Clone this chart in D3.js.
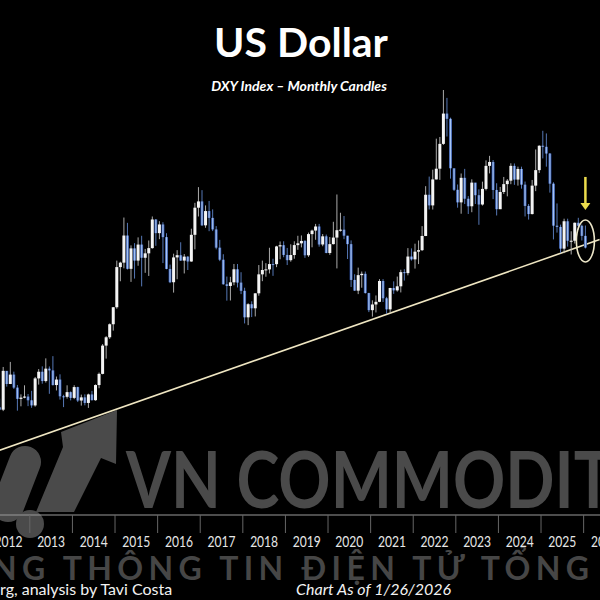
<!DOCTYPE html>
<html lang="en">
<meta charset="UTF-8">
<style>
    body{
        margin:0;
        background:#000;
    }
    text.title{
        font-family:Lato,"Open Sans",sans-serif;
        font-weight:bold;
        fill:#fff;
    }
    text.years{
        font-family:Lato,"Open Sans",sans-serif;
        font-size:15px;
        fill:#e6e6e6;
    }
    text.foot{
        font-family:Lato,"Open Sans",sans-serif;
        font-size:16px;
        fill:#f2f2f2;
    }
</style>
<body>
<div id="chart"></div>
<script src="https://cdn.jsdelivr.net/npm/d3@7"></script>
<script>
    var width = 600;
    var height = 600;

    // DXY monthly candles, Jan 2012 .. Jan 2026 (open = previous close)
    var firstOpen = 80.18;
    var closes = [
        79.08,78.86,78.98,78.71,83.09,81.61,82.67,81.20,79.93,80.07,80.19,79.77,
        79.19,82.24,82.99,81.94,83.34,83.14,81.49,82.11,80.22,80.16,80.69,80.04,
        81.26,79.74,80.10,79.47,80.43,79.78,81.49,82.75,85.94,86.88,88.35,90.27,
        94.80,95.30,98.36,94.60,96.91,95.53,97.34,95.85,96.35,96.94,100.17,98.63,
        99.61,98.18,94.59,93.09,95.89,96.14,95.53,95.98,95.43,98.44,101.50,102.21,
        99.51,101.12,100.35,99.05,96.99,95.63,92.86,92.67,93.08,94.55,93.05,92.12,
        89.13,90.61,90.15,91.84,93.98,94.47,94.54,95.14,95.13,97.13,97.27,96.17,
        95.58,96.16,97.28,97.48,97.75,96.13,98.52,98.92,99.38,97.35,98.27,96.39,
        97.39,98.13,98.96,99.02,98.34,97.39,93.35,92.14,93.89,94.04,91.87,89.94,
        90.58,90.88,93.23,91.28,90.03,92.44,92.17,92.63,94.23,94.12,95.99,95.67,
        96.54,96.71,98.31,102.96,101.76,104.69,105.90,108.70,112.12,111.53,105.95,103.52,
        102.10,104.87,102.51,101.66,104.33,102.91,101.86,103.62,106.22,106.66,103.50,101.33,
        103.27,104.16,104.55,106.22,104.67,105.87,104.10,101.70,100.78,103.99,105.74,108.49,
        108.37,107.61,104.21,99.47,99.33,96.88,99.97,97.77,97.77,99.80,99.46,98.32,
        97.00
    ];
    var highs = [
        81.78,79.74,80.74,79.95,83.53,83.05,84.10,83.00,81.50,80.44,81.46,80.48,
        80.84,82.40,83.29,83.60,84.50,83.59,84.75,82.45,82.70,80.39,81.46,80.77,
        81.47,81.30,80.41,80.44,80.52,80.83,81.56,82.90,86.11,87.01,88.44,90.28,
        95.53,95.40,100.39,99.79,97.25,97.50,98.15,98.33,96.85,97.80,100.51,100.22,
        99.98,99.86,98.62,95.08,96.31,96.71,97.60,96.27,96.03,99.13,102.05,103.82,
        103.48,101.76,102.26,101.31,99.42,97.87,96.25,93.73,93.70,95.15,95.15,94.22,
        92.47,90.72,90.94,91.84,95.03,95.53,95.24,96.98,95.74,97.20,97.69,97.71,
        96.96,97.37,97.71,98.33,98.37,97.84,98.69,99.02,99.67,99.67,98.53,98.47,
        98.19,99.91,102.99,100.93,100.56,98.32,97.81,93.99,94.74,94.30,94.30,91.90,
        91.05,91.60,93.44,93.44,91.44,92.46,93.19,93.73,94.50,94.56,96.94,96.91,
        97.44,97.80,99.42,103.93,105.01,105.79,109.29,109.48,114.78,113.89,111.66,105.65,
        104.12,105.36,105.88,102.81,104.70,104.08,103.57,104.44,106.84,107.35,106.88,104.26,
        103.84,104.97,104.73,106.51,106.49,106.13,106.13,104.45,101.92,104.63,108.07,108.54,
        110.18,109.88,107.67,104.37,101.98,99.59,100.26,100.26,98.84,99.83,100.36,99.60,
        99.49
    ];
    var lows = [
        78.93,78.10,78.48,78.65,78.55,81.31,81.60,81.05,78.60,79.09,80.00,79.11,
        78.92,79.05,81.54,81.64,81.77,80.50,81.43,80.88,79.85,79.00,79.96,79.76,
        79.90,79.57,79.17,79.20,78.91,79.75,79.72,81.13,82.70,84.47,86.70,87.63,
        90.10,93.20,94.66,94.52,93.13,93.50,94.95,92.62,94.15,93.80,96.88,97.20,
        97.95,95.25,94.55,92.99,91.92,93.43,95.50,94.08,94.47,95.40,96.80,100.51,
        99.43,99.23,98.85,98.86,96.80,95.47,92.82,91.01,91.03,92.75,92.50,91.75,
        88.44,88.25,89.16,89.23,91.57,93.21,93.71,94.08,93.81,94.79,95.68,95.91,
        95.03,95.41,95.74,96.75,97.02,95.84,95.95,97.03,97.88,97.10,97.15,96.36,
        96.18,97.35,94.65,98.81,97.95,95.71,92.55,92.13,91.75,92.47,91.81,89.72,
        89.21,89.68,90.84,90.86,89.53,89.66,91.78,92.03,91.94,93.28,93.87,95.53,
        94.63,95.14,96.61,98.29,101.30,101.29,104.69,104.64,108.59,109.53,104.78,103.39,
        101.50,100.82,101.92,100.79,100.99,101.92,99.57,101.74,103.45,105.37,102.47,100.62,
        101.34,103.05,102.78,104.15,104.08,103.99,103.65,100.51,100.16,100.74,103.37,105.42,
        107.06,106.13,103.20,97.92,98.69,96.38,96.37,97.11,96.22,97.46,99.01,97.80,
        96.90
    ];
    var years = ["2012","2013","2014","2015","2016","2017","2018","2019","2020",
                 "2021","2022","2023","2024","2025","2026"];

    // support line (month index from Jan 2012, value) and the circled last candle
    var trend = [{m: 0, v: 73.72}, {m: 172, v: 97.9}];
    var circled = {m: 168, v: 97.75};
    var arrowFrom = 104.97, arrowTo = 101.25;

    var candles = closes.map(function(c, i){
        return {m: i, o: i == 0 ? firstOpen : closes[i-1], c: c, h: highs[i], l: lows[i]};
    });

    var svg = d3.select("#chart").append("svg")
        .attr("width", width)
        .attr("height", height)
        .style("background", "#000");

    var defs = svg.append("defs");
    var grad = defs.append("linearGradient").attr("id", "blueBody")
        .attr("x1", "0%").attr("x2", "100%").attr("y1", "0%").attr("y2", "0%");
    grad.append("stop").attr("offset", "0%").attr("stop-color", "#24469a");
    grad.append("stop").attr("offset", "50%").attr("stop-color", "#a8c6f4");
    grad.append("stop").attr("offset", "100%").attr("stop-color", "#24469a");

    // scales: x = month index (centre of candle), y = index value
    var x = d3.scaleLinear().domain([0, 168]).range([-11, 585.4]);
    var y = d3.scaleLinear().domain([78.9, 114.78]).range([408, 90]);
    var step = x(1) - x(0);

    // watermark
    var wm = svg.append("g").attr("fill", "#4a4a4a");
    wm.append("path")
        .attr("d", "M8,506 L25,462")
        .attr("stroke", "#4a4a4a").attr("stroke-width", 32).attr("stroke-linecap", "round");
    wm.append("path").attr("d", "M36,512 L63,447 L61,432 L117,410 L116,464 L101,458 L74,512 Z");
    wm.append("circle").attr("cx", 30).attr("cy", 524).attr("r", 14);
    wm.append("text")
        .attr("transform", "translate(126,508) scale(0.83,1)")
        .attr("font-family", "Lato, sans-serif").attr("font-weight", "bold")
        .attr("font-size", 78)
        .text("VN COMMODITIES");
    wm.append("text")
        .attr("x", -8).attr("y", 580)
        .attr("font-family", "Lato, sans-serif").attr("font-weight", "bold")
        .attr("font-size", 32)
        .attr("fill", "#464646")
        .attr("textLength", 597).attr("lengthAdjust", "spacing")
        .text("NG THÔNG TIN ĐIỆN TỬ TỔNG");

    // titles
    svg.append("text").attr("class", "title")
        .attr("x", 301).attr("y", 57)
        .attr("text-anchor", "middle").attr("font-size", 41)
        .text("US Dollar");
    svg.append("text").attr("class", "title")
        .attr("x", 299).attr("y", 91)
        .attr("text-anchor", "middle").attr("font-size", 14)
        .attr("font-style", "italic")
        .text("DXY Index \u2013 Monthly Candles");

    // support line
    svg.append("line")
        .attr("x1", x(trend[0].m)).attr("y1", y(trend[0].v))
        .attr("x2", x(trend[1].m)).attr("y2", y(trend[1].v))
        .attr("stroke", "#efe6c2").attr("stroke-width", 1.6);

    // candles
    var cg = svg.append("g").selectAll("g.candle")
        .data(candles)
        .enter().append("g")
        .attr("class", "candle");

    cg.append("line")
        .attr("x1", function(d){ return x(d.m); })
        .attr("x2", function(d){ return x(d.m); })
        .attr("y1", function(d){ return y(d.h); })
        .attr("y2", function(d){ return y(d.l); })
        .attr("stroke", function(d){ return d.c >= d.o ? "#bdbdbd" : "#5f84c8"; })
        .attr("stroke-width", 0.9);

    cg.append("rect")
        .attr("x", function(d){ return x(d.m) - 1.5; })
        .attr("width", 3)
        .attr("y", function(d){ return y(Math.max(d.o, d.c)); })
        .attr("height", function(d){ return Math.max(1, Math.abs(y(d.o) - y(d.c))); })
        .attr("fill", function(d){ return d.c >= d.o ? "#f4f4f4" : "url(#blueBody)"; });

    // annotation
    svg.append("ellipse")
        .attr("cx", x(circled.m)).attr("cy", y(circled.v))
        .attr("rx", 9).attr("ry", 21)
        .attr("fill", "none").attr("stroke", "#ece6c8").attr("stroke-width", 1.6);
    svg.append("line")
        .attr("x1", x(circled.m)).attr("x2", x(circled.m))
        .attr("y1", y(arrowFrom)).attr("y2", y(arrowTo) - 6)
        .attr("stroke", "#ecdc4c").attr("stroke-width", 2.5);
    svg.append("path")
        .attr("d", "M" + (x(circled.m) - 5) + "," + (y(arrowTo) - 7) +
                   " L" + (x(circled.m) + 5) + "," + (y(arrowTo) - 7) +
                   " L" + x(circled.m) + "," + y(arrowTo) + " Z")
        .attr("fill", "#ecdc4c");

    // year axis: separators at each January, labels centred on the year
    svg.append("line")
        .attr("x1", 0).attr("x2", width)
        .attr("y1", 515).attr("y2", 515)
        .attr("stroke", "#9a9a9a").attr("stroke-width", 1.2);

    svg.selectAll("line.sep")
        .data(years.slice(1))
        .enter().append("line")
        .attr("class", "sep")
        .attr("x1", function(d, i){ return x((i + 1) * 12 - 0.5); })
        .attr("x2", function(d, i){ return x((i + 1) * 12 - 0.5); })
        .attr("y1", 515).attr("y2", 533)
        .attr("stroke", "#666").attr("stroke-width", 1);

    svg.selectAll("text.years")
        .data(years)
        .enter().append("text")
        .attr("class", "years")
        .attr("x", function(d, i){ return x(i * 12 - 0.5) + 6 * step - 14; })
        .attr("y", 547)
        .attr("textLength", 28).attr("lengthAdjust", "spacingAndGlyphs")
        .text(function(d){ return d; });

    // footer
    svg.append("text").attr("class", "foot")
        .attr("x", 0).attr("y", 595)
        .text("rg, analysis by Tavi Costa");
    svg.append("text").attr("class", "foot")
        .attr("x", 296).attr("y", 595)
        .attr("font-style", "italic")
        .text("Chart As of 1/26/2026");
</script>
</body>
</html>
